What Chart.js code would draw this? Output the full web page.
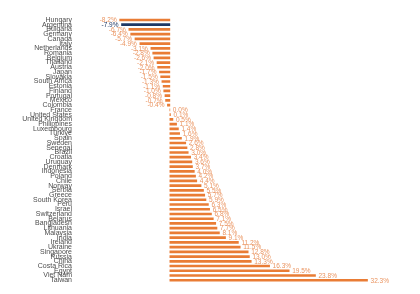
<!DOCTYPE html>
<html>
<head>
<meta charset="utf-8">
<script src="https://cdn.jsdelivr.net/npm/chart.js@4.4.1/dist/chart.umd.min.js"></script>
<style>
  html, body { margin: 0; padding: 0; background: #ffffff; }
  #wrap { width: 420px; height: 294px; position: relative; }
</style>
</head>
<body>
<div id="wrap"><canvas id="c" width="420" height="294"></canvas></div>
<script>
const countries = [
  "Hungary","Argentina","Bulgaria","Germany","Canada","Italy","Netherlands","Romania",
  "Belgium","Thailand","Austria","Japan","Slovakia","South Africa","Estonia","Finland",
  "Portugal","Mexico","Colombia","France","United States","United Kingdom","Philippines",
  "Luxembourg","Türkiye","Spain","Sweden","Senegal","Brazil","Croatia","Uruguay","Denmark",
  "Indonesia","Poland","Chile","Norway","Serbia","Greece","South Korea","Peru","Israel",
  "Switzerland","Belarus","Bangladesh","Lithuania","Malaysia","India","Ireland","Ukraine",
  "Singapore","Russia","China","Costa Rica","Egypt","Viet Nam","Taiwan"
];
const changePct = [
  -8.2,-7.9,-6.7,-6.4,-5.7,-4.9,-3.1,-2.8,
  -2.6,-2.1,-2.0,-1.7,-1.5,-1.3,-1.1,-1.0,
  -0.8,-0.7,-0.4,0.0,0.1,0.5,1.1,
  1.4,1.6,1.9,2.6,2.8,3.0,3.4,3.6,3.7,
  4.0,4.2,4.4,5.1,5.5,5.7,5.9,6.3,6.5,
  6.8,7.1,7.5,7.7,8.1,9.1,11.2,11.5,
  12.8,13.0,13.3,16.3,19.5,23.8,32.3
];
const highlighted = ["Argentina"];

const ORANGE = '#E97C35';
const LABEL_ORANGE = '#EA9460';
const NAVY = '#1F3864';
const FONT = '"Liberation Sans Narrow", "Liberation Sans", Arial, sans-serif';

const barColors = countries.map(c => highlighted.includes(c) ? NAVY : ORANGE);

const valueLabels = {
  id: 'valueLabels',
  afterDatasetsDraw(chart) {
    const ctx = chart.ctx;
    const meta = chart.getDatasetMeta(0);
    ctx.save();
    ctx.font = '6.5px ' + FONT;
    ctx.textBaseline = 'middle';
    meta.data.forEach((bar, i) => {
      const v = changePct[i];
      const neg = v < 0;
      ctx.fillStyle = highlighted.includes(countries[i]) ? NAVY : LABEL_ORANGE;
      ctx.textAlign = neg ? 'right' : 'left';
      const x = neg ? bar.x - 3 : bar.x + 3;
      ctx.fillText(v.toFixed(1) + '%', x, bar.y + 0.5);
    });
    ctx.restore();
  }
};

new Chart(document.getElementById('c'), {
  type: 'bar',
  data: {
    labels: countries,
    datasets: [{
      data: changePct,
      backgroundColor: barColors,
      borderWidth: 0,
      barThickness: 2,
      minBarLength: 0
    }]
  },
  options: {
    indexAxis: 'y',
    responsive: false,
    animation: false,
    devicePixelRatio: 1,
    layout: { padding: { top: 17.6, bottom: 11.4, left: 0, right: 17.6 } },
    plugins: { legend: { display: false }, tooltip: { enabled: false } },
    scales: {
      x: {
        display: false,
        min: -15.5,
        max: 38
      },
      y: {
        grid: { display: false, drawTicks: false },
        border: { display: false },
        afterFit(scale) { scale.width = 75; },
        ticks: {
          autoSkip: false,
          padding: 3,
          color: '#4D4D4D',
          font: { family: FONT, size: 7 }
        }
      }
    }
  },
  plugins: [valueLabels]
});
</script>
</body>
</html>
